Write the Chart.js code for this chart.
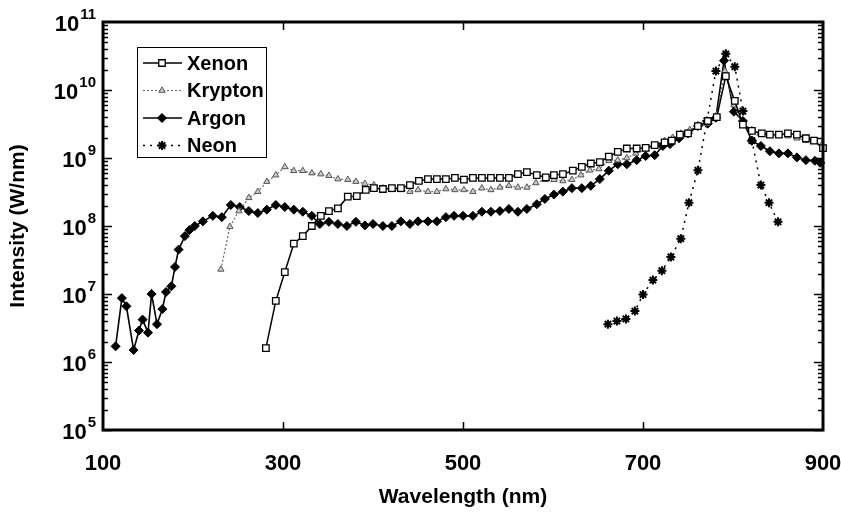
<!DOCTYPE html>
<html>
<head>
<meta charset="utf-8">
<script src="https://cdn.jsdelivr.net/npm/chart.js@4.4.1/dist/chart.umd.min.js"></script>
<style>
  html, body { margin: 0; padding: 0; background: #fff; }
  #wrap { width: 841px; height: 521px; }
</style>
</head>
<body>
<div id="wrap"><canvas id="spectrum"></canvas></div>
<script>
// wavelengths (nm) and intensities (W/nm)
const xenonWl = [281, 292, 302, 312, 322, 332, 342, 351, 361, 372, 382, 392, 401, 411, 421, 431, 441, 451, 461, 471,
  481, 491, 501, 511, 521, 531, 541, 551, 561, 571, 582, 592, 601, 611, 622, 632, 642, 652, 662, 672,
  682, 693, 703, 713, 724, 732, 741, 750, 761, 772, 782, 792, 802, 811, 821, 832, 841, 851, 861, 871,
  881, 890, 900];
const xenonI = [1.6e6, 7.9e6, 2.1e7, 5.5e7, 7.1e7, 1.0e8, 1.41e8, 1.66e8, 1.82e8, 2.7e8, 2.75e8, 3.4e8, 3.6e8, 3.5e8, 3.6e8, 3.6e8, 4.0e8, 4.6e8, 4.9e8, 4.9e8,
  4.9e8, 5.1e8, 4.8e8, 5.1e8, 5.1e8, 5.1e8, 5.1e8, 5.1e8, 5.8e8, 6.2e8, 5.6e8, 5.2e8, 5.6e8, 5.8e8, 6.5e8, 7.4e8, 8.3e8, 8.7e8, 1.05e9, 1.23e9,
  1.38e9, 1.38e9, 1.41e9, 1.55e9, 1.7e9, 1.8e9, 2.2e9, 2.3e9, 2.95e9, 3.5e9, 4.0e9, 1.6e10, 6.9e9, 3.1e9, 2.5e9, 2.3e9, 2.2e9, 2.2e9, 2.3e9, 2.2e9,
  1.95e9, 1.8e9, 1.4e9];

const kryptonWl = [231, 241, 251, 262, 272, 282, 292, 302, 312, 322, 332, 342, 351, 361, 372, 381, 391, 401, 411, 421,
  431, 441, 450, 461, 471, 481, 491, 501, 511, 521, 531, 541, 551, 561, 571, 581, 591, 601, 611, 621,
  631, 641, 651, 662, 672, 682, 692, 703, 712, 724, 733, 742, 752, 761, 771, 782, 791, 801, 811, 821,
  830, 840, 850, 861, 871, 881, 889, 899];
const kryptonI = [2.3e7, 9.8e7, 1.66e8, 2.6e8, 3.2e8, 4.5e8, 5.6e8, 7.4e8, 6.5e8, 6.5e8, 6.0e8, 5.8e8, 5.5e8, 4.9e8, 4.8e8, 4.5e8, 4.2e8, 4.0e8, 3.6e8, 3.4e8,
  3.4e8, 3.2e8, 3.4e8, 3.2e8, 3.2e8, 3.5e8, 3.4e8, 3.4e8, 3.2e8, 3.6e8, 3.4e8, 3.7e8, 3.9e8, 3.7e8, 3.7e8, 4.3e8, 4.8e8, 4.8e8, 4.6e8, 4.8e8,
  5.6e8, 6.6e8, 6.9e8, 9.1e8, 9.3e8, 1.0e9, 1.17e9, 1.35e9, 1.5e9, 1.8e9, 2.0e9, 2.3e9, 2.6e9, 3.0e9, 3.2e9, 4.3e9, 1.9e10, 6.0e9, 3.0e9, 2.6e9,
  2.3e9, 2.2e9, 2.2e9, 2.1e9, 1.95e9, 1.8e9, 1.74e9, 1.6e9];

const argonWl = [114, 121, 126, 134, 140, 144, 150, 154, 160, 166, 170, 176, 180, 184, 191, 196, 202, 211, 222, 232,
  242, 252, 262, 272, 282, 292, 302, 312, 322, 332, 341, 351, 361, 371, 381, 391, 400, 411, 421, 431,
  441, 450, 461, 471, 481, 490, 500, 511, 521, 531, 541, 551, 561, 571, 582, 591, 601, 611, 621, 632,
  642, 652, 662, 672, 682, 693, 703, 713, 722, 730, 740, 750, 761, 772, 781, 790, 801, 811, 821, 831,
  841, 851, 861, 871, 881, 891, 897];
const argonI = [1.7e6, 8.7e6, 6.6e6, 1.5e6, 2.9e6, 4.2e6, 2.7e6, 1.0e7, 3.6e6, 6.0e6, 1.07e7, 1.3e7, 2.5e7, 4.5e7, 7.1e7, 8.7e7, 1.0e8, 1.17e8, 1.41e8, 1.35e8,
  2.04e8, 1.9e8, 1.66e8, 1.55e8, 1.74e8, 2.04e8, 1.9e8, 1.74e8, 1.62e8, 1.41e8, 1.07e8, 1.15e8, 1.07e8, 1.0e8, 1.15e8, 1.02e8, 1.07e8, 1.0e8, 1.0e8, 1.17e8,
  1.07e8, 1.17e8, 1.17e8, 1.17e8, 1.35e8, 1.41e8, 1.41e8, 1.41e8, 1.62e8, 1.62e8, 1.66e8, 1.78e8, 1.62e8, 1.78e8, 2.09e8, 2.5e8, 2.9e8, 3.2e8, 3.6e8, 3.6e8,
  3.9e8, 4.9e8, 6.5e8, 8.1e8, 8.1e8, 9.3e8, 1.07e9, 1.1e9, 1.5e9, 1.6e9, 1.95e9, 2.3e9, 2.95e9, 3.2e9, 3.9e9, 2.7e10, 4.8e9, 3.5e9, 1.8e9, 1.5e9,
  1.26e9, 1.17e9, 1.17e9, 1.02e9, 9.3e8, 9.1e8, 8.5e8];

const neonWl = [661, 671, 681, 691, 700, 711, 721, 731, 742, 751, 761, 771, 781, 792, 802, 811, 821, 831, 840, 850];
const neonI = [3.6e6, 4.0e6, 4.3e6, 5.6e6, 9.8e6, 1.6e7, 2.2e7, 3.5e7, 6.5e7, 2.2e8, 6.6e8, 3.5e9, 1.9e10, 3.4e10, 2.2e10, 4.9e9, 1.8e9, 4.0e8, 2.2e8, 1.15e8];

const seriesNames = ["Xenon", "Krypton", "Argon", "Neon"];
const xTicks = [100, 300, 500, 700, 900];
const yExponents = [5, 6, 7, 8, 9, 10, 11];

const FONT = "'Liberation Sans', Arial, Helvetica, sans-serif";

function pts(wl, vals) {
  return wl.map((x, i) => ({ x: x, y: vals[i] }));
}

// thick box + inward tick marks
const frame = {
  id: "frame",
  afterDatasetsDraw(chart) {
    const { ctx, chartArea: a, scales } = chart;
    const x = scales.x, y = scales.y;
    ctx.save();
    ctx.strokeStyle = "#000";
    ctx.lineWidth = 1.5;
    ctx.beginPath();
    for (let e = 5; e < 11; e++) {
      for (let m = 1; m < 10; m++) {
        const py = Math.round(y.getPixelForValue(m * Math.pow(10, e))) + 0.5;
        const len = m === 1 ? 9 : 5;
        ctx.moveTo(a.left, py); ctx.lineTo(a.left + len, py);
        ctx.moveTo(a.right, py); ctx.lineTo(a.right - len, py);
      }
    }
    xTicks.slice(1, -1).forEach(v => {
      const px = Math.round(x.getPixelForValue(v)) + 0.5;
      ctx.moveTo(px, a.bottom); ctx.lineTo(px, a.bottom - 8);
      ctx.moveTo(px, a.top); ctx.lineTo(px, a.top + 8);
    });
    ctx.stroke();
    ctx.lineWidth = 3;
    ctx.strokeRect(a.left, a.top, a.right - a.left, a.bottom - a.top);
    ctx.restore();
  }
};

// 10^n labels with raised exponent
const powerLabels = {
  id: "powerLabels",
  afterDraw(chart) {
    const { ctx, chartArea: a } = chart;
    const y = chart.scales.y;
    ctx.save();
    ctx.fillStyle = "#000";
    ctx.textBaseline = "middle";
    ctx.textAlign = "right";
    yExponents.forEach(e => {
      const py = y.getPixelForValue(Math.pow(10, e));
      const ex = String(e);
      const exRight = a.left - 7;
      ctx.font = "bold 15px " + FONT;
      ctx.fillText(ex, exRight, py - 7);
      const w = ctx.measureText(ex).width;
      ctx.font = "bold 22px " + FONT;
      ctx.fillText("10", exRight - w - 1, py + 3);
    });
    ctx.restore();
  }
};

// boxed legend inside the plot, line sample with marker
const boxLegend = {
  id: "boxLegend",
  afterDraw(chart) {
    const { ctx, chartArea: a } = chart;
    const x0 = a.left + 34, y0 = a.top + 25, w = 129, h = 110;
    ctx.save();
    ctx.fillStyle = "#fff";
    ctx.fillRect(x0, y0, w, h);
    ctx.strokeStyle = "#000";
    ctx.lineWidth = 1;
    ctx.strokeRect(x0 + 0.5, y0 + 0.5, w, h);
    chart.data.datasets.forEach((ds, i) => {
      const cy = y0 + 16 + i * 27.5;
      ctx.strokeStyle = ds.borderColor;
      ctx.lineWidth = ds.borderWidth;
      ctx.setLineDash(ds.borderDash || []);
      ctx.beginPath();
      ctx.moveTo(x0 + 6, cy); ctx.lineTo(x0 + 45, cy);
      ctx.stroke();
      ctx.setLineDash([]);
      ctx.fillStyle = ds.pointBackgroundColor;
      ctx.strokeStyle = ds.pointBorderColor;
      ctx.lineWidth = ds.pointBorderWidth;
      Chart.helpers.drawPoint(ctx, {
        pointStyle: ds.pointStyle, rotation: 0,
        radius: ds.pointRadius, borderWidth: ds.pointBorderWidth
      }, x0 + 25, cy);
      ctx.fillStyle = "#000";
      ctx.font = "bold 20px " + FONT;
      ctx.textAlign = "left";
      ctx.textBaseline = "middle";
      ctx.fillText(ds.label, x0 + 50, cy + 1);
    });
    ctx.restore();
  }
};

const ctx = document.getElementById("spectrum").getContext("2d");

new Chart(ctx, {
  type: "line",
  data: {
    datasets: [
      {
        label: seriesNames[0],
        data: pts(xenonWl, xenonI),
        borderColor: "#000",
        borderWidth: 1.5,
        pointStyle: "rect",
        pointRadius: 4.6,
        pointBackgroundColor: "#fff",
        pointBorderColor: "#000",
        pointBorderWidth: 1.3,
        clip: false
      },
      {
        label: seriesNames[1],
        data: pts(kryptonWl, kryptonI),
        borderColor: "#666",
        borderWidth: 1.2,
        borderDash: [2, 2],
        pointStyle: "triangle",
        pointRadius: 3.6,
        pointBackgroundColor: "#ccc",
        pointBorderColor: "#555",
        pointBorderWidth: 1,
        clip: false
      },
      {
        label: seriesNames[2],
        data: pts(argonWl, argonI),
        borderColor: "#000",
        borderWidth: 1.6,
        pointStyle: "rectRot",
        pointRadius: 4.5,
        pointBackgroundColor: "#000",
        pointBorderColor: "#000",
        pointBorderWidth: 1,
        clip: false
      },
      {
        label: seriesNames[3],
        data: pts(neonWl, neonI),
        borderColor: "#000",
        borderWidth: 1.5,
        borderDash: [2, 5],
        pointStyle: "star",
        pointRadius: 4.5,
        pointBackgroundColor: "#000",
        pointBorderColor: "#000",
        pointBorderWidth: 2,
        clip: false
      }
    ]
  },
  options: {
    responsive: true,
    maintainAspectRatio: false,
    animation: false,
    layout: { padding: { left: 0, right: 18, top: 22, bottom: 0 } },
    scales: {
      x: {
        type: "linear",
        min: 100,
        max: 900,
        afterBuildTicks: (scale) => { scale.ticks = xTicks.map(v => ({ value: v })); },
        afterFit: (scale) => {
          scale.height = 91;
          scale.paddingLeft = 0;
          scale.paddingRight = 0;
        },
        grid: { display: false, drawTicks: false },
        border: { display: false },
        ticks: {
          color: "#000",
          padding: 21,
          maxRotation: 0,
          font: { family: FONT, size: 22, weight: "bold" }
        },
        title: {
          display: true,
          text: "Wavelength (nm)",
          color: "#000",
          font: { family: FONT, size: 21, weight: "bold" },
          padding: { top: 4, bottom: 11 }
        }
      },
      y: {
        type: "logarithmic",
        min: 1e5,
        max: 1e11,
        afterBuildTicks: (scale) => { scale.ticks = yExponents.map(e => ({ value: Math.pow(10, e) })); },
        afterFit: (scale) => { scale.width = 103; },
        grid: { display: false, drawTicks: false },
        border: { display: false },
        ticks: { display: false },
        title: {
          display: true,
          text: "Intensity (W/nm)",
          color: "#000",
          font: { family: FONT, size: 21, weight: "bold" },
          padding: { top: 6, bottom: 0 }
        }
      }
    },
    plugins: {
      legend: { display: false },
      tooltip: { enabled: false }
    }
  },
  plugins: [frame, powerLabels, boxLegend]
});
</script>
</body>
</html>
